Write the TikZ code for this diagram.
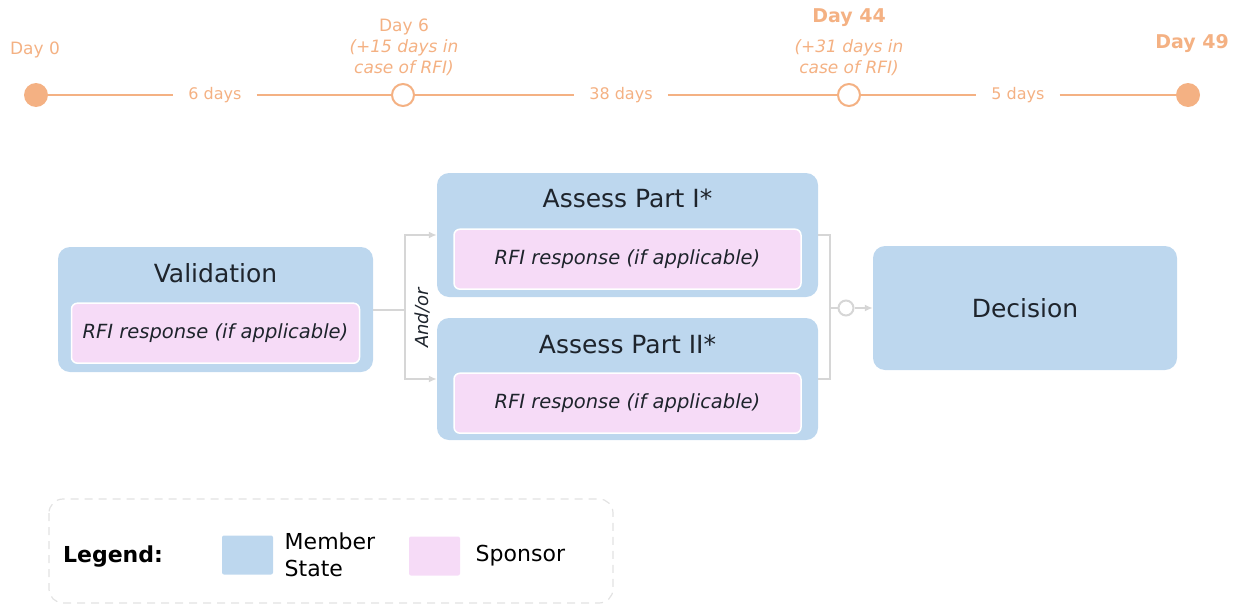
\documentclass[tikz,border=0pt]{standalone}
\usepackage{fontspec}
\setmainfont{DejaVu Sans}
\usetikzlibrary{positioning, arrows.meta, shapes}

\definecolor{msblue}{RGB}{189,215,238}
\definecolor{sppink}{RGB}{246,219,247}
\definecolor{tlorange}{RGB}{244,177,131}
\definecolor{lnkgray}{RGB}{214,214,214}
\definecolor{txtdark}{RGB}{30,36,44}

\begin{document}
\begin{tikzpicture}[x=1pt, y=-1pt, >={Latex[length=8pt,width=7pt]},
  dotfull/.style={circle, fill=tlorange, minimum size=24pt, inner sep=0pt},
  dotopen/.style={circle, draw=tlorange, fill=white, line width=2pt, minimum size=22pt, inner sep=0pt},
  tline/.style={draw=tlorange, line width=2.2pt},
  gaplbl/.style={inner xsep=15pt, text=tlorange, font={\fontsize{16}{19}\selectfont}},
  daylbl/.style={text=tlorange, align=center, font={\fontsize{17}{21}\selectfont}},
  daybold/.style={text=tlorange, font={\bfseries\fontsize{19}{23}\selectfont}},
  stage/.style={fill=msblue, rounded corners=12pt, inner sep=0pt},
  stagetitle/.style={text=txtdark, font={\fontsize{25}{30}\selectfont}},
  resp/.style={fill=sppink, draw=white, line width=1.5pt, rounded corners=6pt,
    minimum height=60pt, text=txtdark, font={\itshape\fontsize{19.5}{24}\selectfont}},
  conn/.style={draw=lnkgray, line width=2pt},
  swatch/.style={rounded corners=2pt, minimum width=51pt, minimum height=39pt, inner sep=0pt},
  lgtext/.style={text=black, align=left, font={\fontsize{22}{27}\selectfont}}]

  \useasboundingbox (0,0) rectangle (1239,605);

  % timeline
  \node[dotfull] (d0) at (36,95) {};
  \node[dotopen] (d6) at (403,95) {};
  \node[dotopen] (d44) at (849,95) {};
  \node[dotfull] (d49) at (1188,95) {};

  \node[gaplbl] (g1) at (215,95) {6 days};
  \node[gaplbl] (g2) at (621,95) {38 days};
  \node[gaplbl] (g3) at (1018,95) {5 days};

  \draw[tline] (d0) -- (g1);
  \draw[tline] (g1) -- (d6);
  \draw[tline] (d6) -- (g2);
  \draw[tline] (g2) -- (d44);
  \draw[tline] (d44) -- (g3);
  \draw[tline] (g3) -- (d49);

  \node[daylbl] (l0) at (35,50) {Day 0};
  \node[daylbl] (l6) at (404,47) {Day 6\\\textit{(+15 days in}\\\textit{case of RFI)}};
  \node[daybold] (l44) at (849,18) {Day 44};
  \node[daylbl] (l44b) at (849,58) {\textit{(+31 days in}\\\textit{case of RFI)}};
  \node[daybold] (l49) at (1192,44) {Day 49};

  % stages
  \node[stage, minimum width=315pt, minimum height=125pt] (val) at (215.5,309.5) {};
  \node[stage, minimum width=381pt, minimum height=124pt] (pt1) at (627.5,235) {};
  \node[stage, minimum width=381pt, minimum height=122pt] (pt2) at (627.5,379) {};
  \node[stage, minimum width=304pt, minimum height=124pt] (dec) at (1025,308) {};

  \node[stagetitle] (valt) at ([yshift=-26pt]val.north) {Validation};
  \node[resp, minimum width=288pt] (valr) at ([yshift=39pt]val.south) {RFI response (if applicable)};
  \node[stagetitle] (pt1t) at ([yshift=-26pt]pt1.north) {Assess Part I*};
  \node[resp, minimum width=347pt] (pt1r) at ([yshift=38pt]pt1.south) {RFI response (if applicable)};
  \node[stagetitle] (pt2t) at ([yshift=-27pt]pt2.north) {Assess Part II*};
  \node[resp, minimum width=347pt] (pt2r) at ([yshift=37pt]pt2.south) {RFI response (if applicable)};
  \node[stagetitle] (dect) at (dec) {Decision};

  % connectors
  \coordinate (fork) at (405,309.5);
  \coordinate (join) at (830,308);
  \node[circle, draw=lnkgray, fill=white, line width=2pt, minimum size=15pt, inner sep=0pt] (jc) at (846,308) {};

  \draw[conn] (val.east) -- (fork);
  \draw[conn, ->] (fork) |- (pt1.west);
  \draw[conn, ->] (fork) |- (pt2.west);
  \node[rotate=90, text=txtdark, font={\itshape\fontsize{18}{21}\selectfont}] (andor) at (422,318) {And/or};

  \draw[conn] (pt1.east) -| (join);
  \draw[conn] (pt2.east) -| (join);
  \draw[conn] (join) -- (jc);
  \draw[conn, ->] (jc) -- (dec.west);

  % legend
  \draw[lnkgray!70, line width=1.2pt, dashed, dash pattern=on 8pt off 6pt, rounded corners=14pt]
    (49,499) rectangle (613,603);
  \node[lgtext, font={\bfseries\fontsize{22}{27}\selectfont}] (lg) at (113,557) {Legend:};
  \node[swatch, fill=msblue] (sw1) at (247.5,555) {};
  \node[lgtext, right=8pt of sw1] (sw1t) {Member\\State};
  \node[swatch, fill=sppink] (sw2) at (434.5,556) {};
  \node[lgtext, right=12pt of sw2] (sw2t) {Sponsor};
\end{tikzpicture}
\end{document}
